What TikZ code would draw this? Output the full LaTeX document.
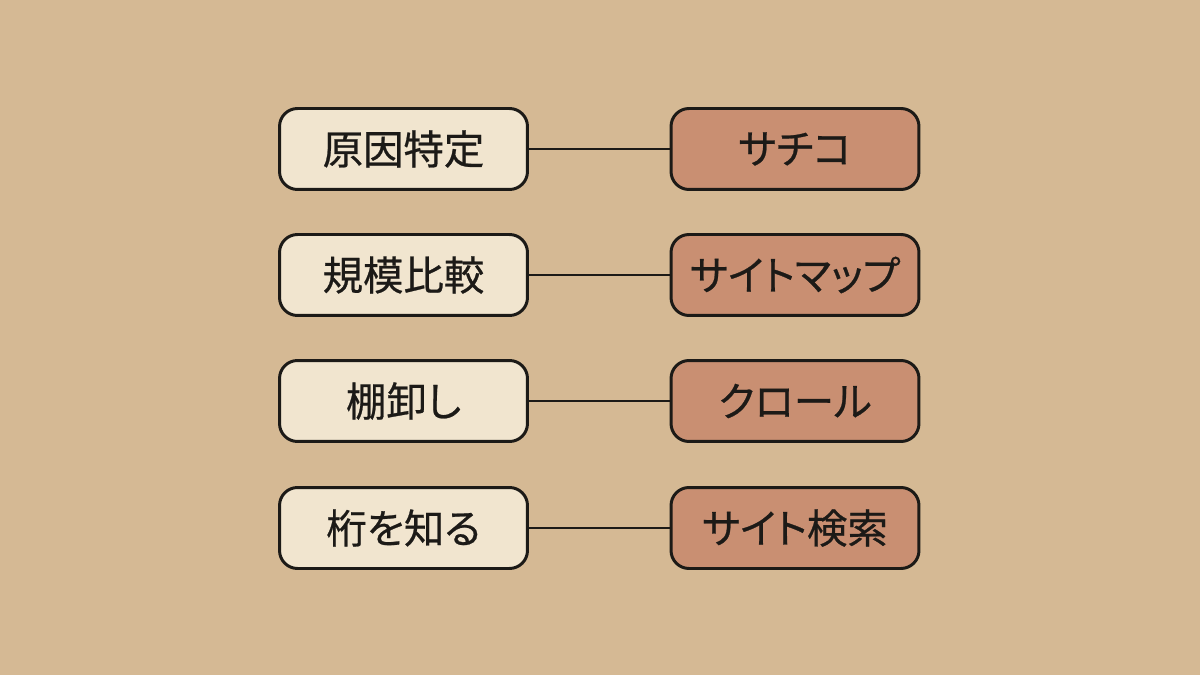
\documentclass[tikz,border=0pt]{standalone}
\usepackage{fontspec}
\newfontfamily\jp[FakeBold=0.6,RawFeature=+palt]{Noto Sans CJK JP}
\definecolor{bgc}{HTML}{D5B994}
\definecolor{leftc}{HTML}{F1E5CF}
\definecolor{rightc}{HTML}{C98F72}
\definecolor{inkc}{HTML}{1C1A17}
\begin{document}
\begin{tikzpicture}[x=0.02cm,y=-0.02cm,
  box/.style={draw=inkc,line width=1.7pt,rounded corners=0.36cm,minimum width=4.96cm,minimum height=1.62cm,inner sep=0pt,font=\jp\fontsize{23}{26}\selectfont,text=inkc},
  lbox/.style={box,fill=leftc},
  rbox/.style={box,fill=rightc},
  link/.style={draw=inkc,line width=1.7pt}]
\fill[bgc] (0,0) rectangle (1200,675);
\useasboundingbox (0,0) rectangle (1200,675);
\node[lbox] (l1) at (403.5,149) {原因特定};
\node[rbox] (r1) at (795,149) {サチコ};
\node[lbox] (l2) at (403.5,275) {規模比較};
\node[rbox] (r2) at (795,275) {サイトマップ};
\node[lbox] (l3) at (403.5,401) {棚卸し};
\node[rbox] (r3) at (795,401) {クロール};
\node[lbox] (l4) at (403.5,528) {桁を知る};
\node[rbox] (r4) at (795,528) {サイト検索};
\foreach \i in {1,...,4}{\draw[link] (l\i) -- (r\i);}
\end{tikzpicture}
\end{document}
